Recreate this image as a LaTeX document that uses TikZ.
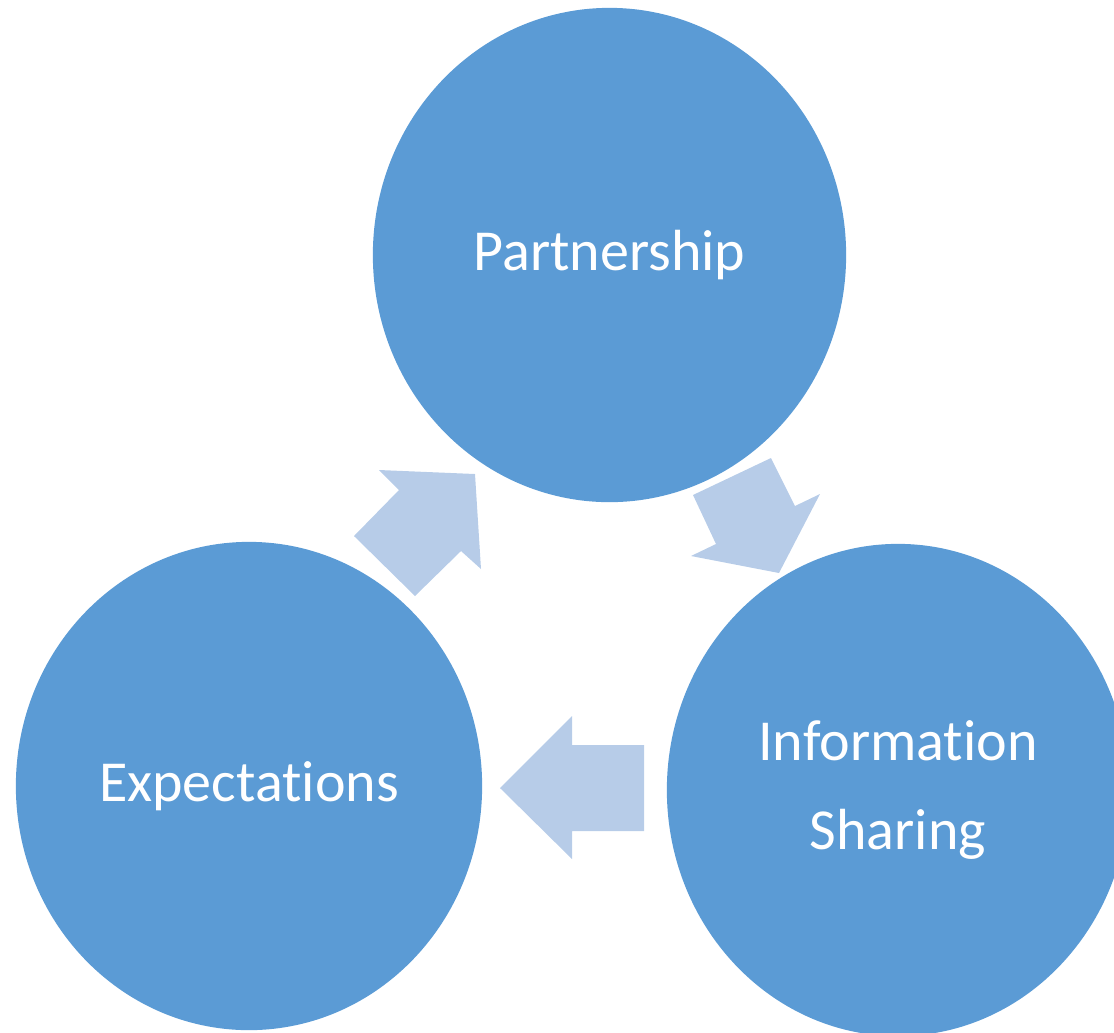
\documentclass[tikz,border=0pt]{standalone}
\usepackage{fontspec}
\setmainfont{Carlito}[RawFeature=-liga]
\usetikzlibrary{shapes.geometric}
\definecolor{bubble}{HTML}{5B9BD5}
\definecolor{pale}{HTML}{B7CCE8}
\tikzset{
  bubble/.style={ellipse, fill=bubble, inner sep=0pt, text=white, align=center,
    font=\fontsize{16.5}{25.5}\selectfont},
  blockarrow/.style={fill=pale}
}
\begin{document}
\begin{tikzpicture}[x=0.01cm,y=-0.01cm]
\useasboundingbox (0,0) rectangle (1114,1032);
\clip (0,0) rectangle (1114,1032);

% Circles
\node[bubble, minimum width=4.73cm, minimum height=4.94cm] (partner) at (609.5,255) {Partnership};
\node[bubble, minimum width=4.66cm, minimum height=4.88cm] (expect) at (249,786) {Expectations};
\node[bubble, minimum width=4.62cm, minimum height=4.92cm] (info) at (898,790) {Information\\Sharing};

% Arrow from Expectations to Partnership
\fill[blockarrow] (379,470) -- (475,474) -- (481,569) -- (461,551) -- (415,596) -- (354,536) -- (399,490) -- cycle;
% Arrow from Partnership to Information Sharing
\fill[blockarrow] (693,495) -- (771,458) -- (795,506) -- (820,494) -- (779,573) -- (691,556) -- (716,544) -- cycle;
% Arrow from Information Sharing to Expectations
\fill[blockarrow] (500,788) -- (572,716) -- (572,745) -- (644,745) -- (644,831) -- (572,831) -- (572,859) -- cycle;

\end{tikzpicture}
\end{document}
